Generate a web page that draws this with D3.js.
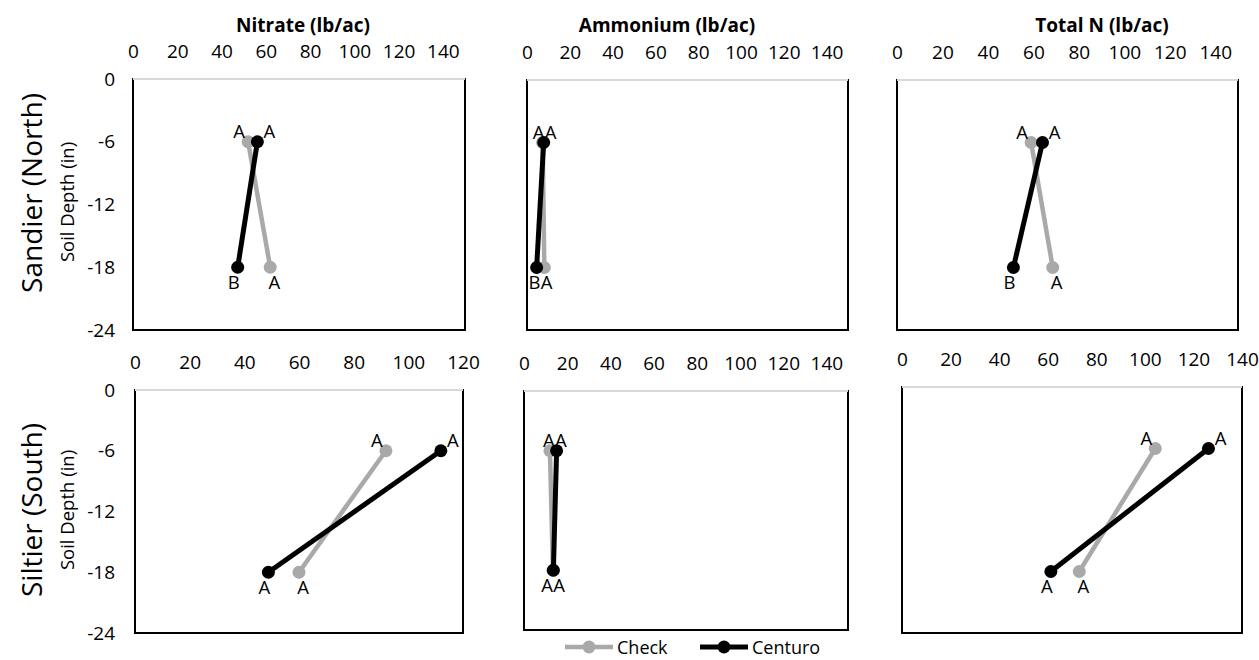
<!DOCTYPE html>
<html>
<head>
<meta charset="utf-8">
<script src="https://cdn.jsdelivr.net/npm/d3@7"></script>
<style>
  body { margin: 0; background: #fff; }
  text { font-family: "Open Sans", sans-serif; fill: #000; }
</style>
</head>
<body>
<svg id="chart" width="1259" height="660"></svg>
<script>
var depths = [-6, -18]
var depthTicks = [0, -6, -12, -18, -24]
var measures = ["Nitrate (lb/ac)", "Ammonium (lb/ac)", "Total N (lb/ac)"]
var sites = ["Sandier (North)", "Siltier (South)"]
var seriesNames = ["Check", "Centuro"]

// values at -6 and -18 in, one pair per measure (nitrate, ammonium, total N)
var checkNorth   = [[52, 62], [7.3, 8.1], [59, 68.5]]
var centuroNorth = [[56.2, 47.3], [7.8, 4.5], [64, 51.2]]
var checkSouth   = [[91.8, 60], [12, 13.4], [104.3, 73]]
var centuroSouth = [[111.9, 48.8], [15.1, 13.6], [126.2, 61.3]]

var lettersCheckNorth   = [["A", "A"], ["A", "A"], ["A", "A"]]
var lettersCenturoNorth = [["A", "B"], ["A", "B"], ["A", "B"]]
var lettersCheckSouth   = [["A", "A"], ["A", "A"], ["A", "A"]]
var lettersCenturoSouth = [["A", "A"], ["A", "A"], ["A", "A"]]

var xMaxNorth = [150, 150, 150]
var xMaxSouth = [120, 150, 140]
var ticksTo140 = [0, 20, 40, 60, 80, 100, 120, 140]
var ticksTo120 = [0, 20, 40, 60, 80, 100, 120]

// layout
var boxes = [
  [[133, 79, 465, 330], [527, 80, 848, 330], [897, 80, 1238, 330]],
  [[135, 390, 463, 633], [524, 391, 848, 630], [902, 387, 1242, 633]]
]
var titleX = [303, 667, 1102]
var siteY = [193, 510]
var depthLabelY = [202, 510]
var gray = "#a9a9a9"
var labelOff = {
  check:   [[-9, -11], [4, 14]],
  centuro: [[12, -11], [-4, 14]]
}

var svg = d3.select("#chart")

measures.forEach(function(m, i) {
  svg.append("text")
    .attr("x", titleX[i]).attr("y", 32)
    .attr("text-anchor", "middle")
    .style("font-weight", "bold").style("font-size", "19px")
    .text(m)
})

var rows = [
  {check: checkNorth, centuro: centuroNorth, lc: lettersCheckNorth, lk: lettersCenturoNorth, xMax: xMaxNorth},
  {check: checkSouth, centuro: centuroSouth, lc: lettersCheckSouth, lk: lettersCenturoSouth, xMax: xMaxSouth}
]

rows.forEach(function(row, r) {
  row.check.forEach(function(_, c) {
    var b = boxes[r][c]
    var max = row.xMax[c]
    var x = d3.scaleLinear().domain([0, max]).range([b[0], b[2]])
    var y = d3.scaleLinear().domain([-24, 0]).range([b[3], b[1]])
    var g = svg.append("g")

    g.append("rect")
      .attr("x", b[0]).attr("y", b[1])
      .attr("width", b[2] - b[0]).attr("height", b[3] - b[1])
      .attr("fill", "none").attr("stroke", "#000").attr("stroke-width", 2)
    g.append("line")
      .attr("x1", b[0]).attr("x2", b[2]).attr("y1", b[1]).attr("y2", b[1])
      .attr("stroke", "#d9d9d9").attr("stroke-width", 2)

    var xAxis = d3.axisTop(x)
      .tickValues(max >= 140 ? ticksTo140 : ticksTo120)
      .tickSize(0).tickPadding(21)
    var ax = g.append("g").attr("transform", "translate(0," + b[1] + ")").call(xAxis)
    ax.select(".domain").remove()
    ax.selectAll("text").style("font-size", "19px").style("font-family", "Open Sans")

    if (c == 0) {
      var yAxis = d3.axisLeft(y).tickValues(depthTicks)
        .tickFormat(function(d) { return String(d) })
        .tickSize(0).tickPadding(b[0] - 115)
      var ay = g.append("g").attr("transform", "translate(" + b[0] + ",0)").call(yAxis)
      ay.select(".domain").remove()
      ay.selectAll("text").style("font-size", "19px").style("font-family", "Open Sans")
    }

    var line = d3.line()
      .x(function(v) { return x(v) })
      .y(function(v, i) { return y(depths[i]) })

    var series = [
      {key: "check", vals: row.check[c], letters: row.lc[c], color: gray, w: 4.5},
      {key: "centuro", vals: row.centuro[c], letters: row.lk[c], color: "#000", w: 5}
    ]
    series.forEach(function(s) {
      g.append("path").attr("d", line(s.vals))
        .attr("fill", "none").attr("stroke", s.color).attr("stroke-width", s.w)
      g.selectAll(null).data(s.vals).enter().append("circle")
        .attr("cx", function(v) { return x(v) })
        .attr("cy", function(v, i) { return y(depths[i]) })
        .attr("r", 6.5).attr("fill", s.color)
    })

    // letter positions; when the two points nearly coincide the letters are set side by side
    function labelX(s, v, i) {
      var a = x(row.check[c][i]), k = x(row.centuro[c][i])
      if (Math.abs(a - k) < 8.5) {
        var mid = (a + k) / 2 + (i == 0 ? 1.5 : 0)
        var leftIsCheck = (i == 0)
        var isLeft = (s.key == "check") == leftIsCheck
        return mid + (isLeft ? -6 : 6)
      }
      return x(v) + labelOff[s.key][i][0]
    }
    series.forEach(function(s) {
      g.selectAll(null).data(s.vals).enter().append("text")
        .attr("x", function(v, i) { return labelX(s, v, i) })
        .attr("y", function(v, i) { return y(depths[i]) + labelOff[s.key][i][1] })
        .attr("text-anchor", "middle").attr("dominant-baseline", "central")
        .style("font-size", "18.5px")
        .text(function(v, i) { return s.letters[i] })
    })
  })

  svg.append("text")
    .attr("transform", "translate(31," + siteY[r] + ") rotate(-90)")
    .attr("text-anchor", "middle").attr("dominant-baseline", "central")
    .style("font-size", "28px")
    .text(sites[r])
  svg.append("text")
    .attr("transform", "translate(66," + depthLabelY[r] + ") rotate(-90)")
    .attr("text-anchor", "middle").attr("dominant-baseline", "central")
    .style("font-size", "18.5px")
    .text("Soil Depth (in)")
})

// legend
var legend = svg.append("g").attr("transform", "translate(0,647)")
var legendX = [565, 700]
seriesNames.forEach(function(n, i) {
  var col = i == 0 ? gray : "#000"
  var lg = legend.append("g").attr("transform", "translate(" + legendX[i] + ",0)")
  lg.append("line").attr("x1", 0).attr("x2", 48).attr("stroke", col).attr("stroke-width", i == 0 ? 4.5 : 5)
  lg.append("circle").attr("cx", 24).attr("r", 6.5).attr("fill", col)
  lg.append("text").attr("x", 52).attr("dominant-baseline", "central").style("font-size", "18px").text(n)
})
</script>
</body>
</html>
